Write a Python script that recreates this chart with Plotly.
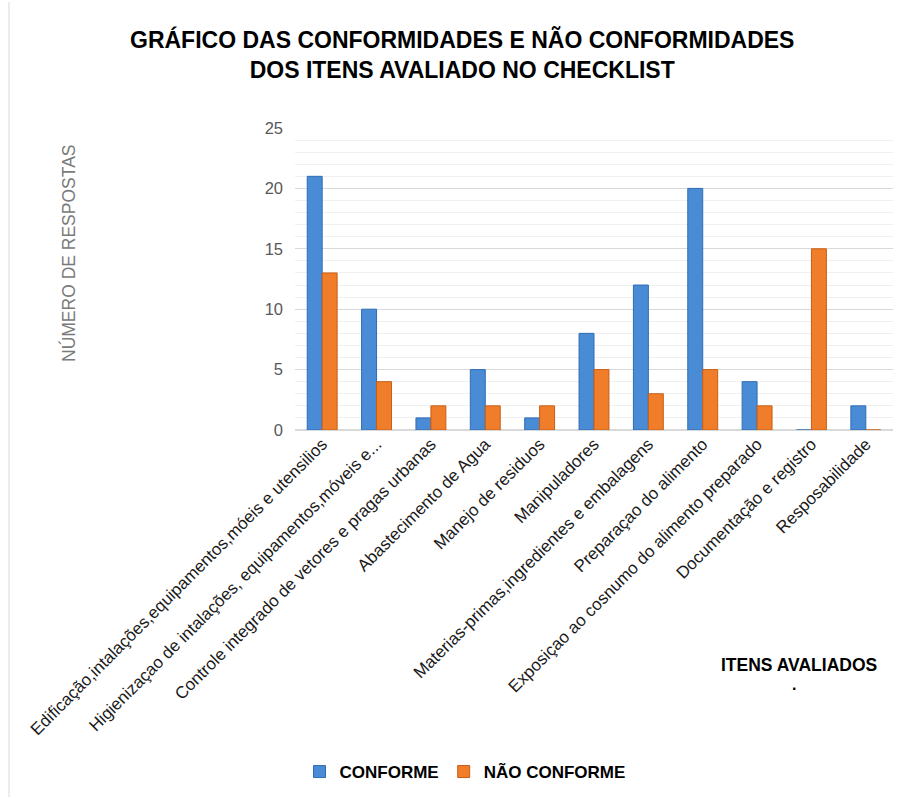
import plotly.graph_objects as go

categories = [
    "Edificação,intalações,equipamentos,móeis e utensilios",
    "Higienizaçao de intalações, equipamentos,móveis e...",
    "Controle integrado de vetores e pragas urbanas",
    "Abastecimento de Agua",
    "Manejo de residuos",
    "Manipuladores",
    "Materias-primas,ingredientes e embalagens",
    "Preparaçao do alimento",
    "Exposiçao ao cosnumo do alimento preparado",
    "Documentação e registro",
    "Resposabilidade",
]
conforme = [21, 10, 1, 5, 1, 8, 12, 20, 4, 0, 2]
nao_conforme = [13, 4, 2, 2, 2, 5, 3, 5, 2, 15, 0]
y_ticks = [0, 5, 10, 15, 20, 25]

W, H = 903, 799
L, R, T, B = 295, 10, 128, 369
pw, ph = W - L - R, H - T - B


def px(x):
    return (x - L) / pw


def py(y):
    return (H - B - y) / ph


FONT = "Liberation Sans, Arial, sans-serif"

fig = go.Figure()
fig.add_trace(go.Bar(
    name="CONFORME", x=categories, y=conforme,
    marker=dict(color="#4A8BD6", line=dict(color="#2F6DB3", width=1)),
))
fig.add_trace(go.Bar(
    name="NÃO CONFORME", x=categories, y=nao_conforme,
    marker=dict(color="#F07D2A", line=dict(color="#C85F14", width=1)),
))

fig.update_layout(
    width=W, height=H,
    margin=dict(l=L, r=R, t=T, b=B),
    paper_bgcolor="white", plot_bgcolor="white",
    barmode="group", bargap=0.45, bargroupgap=0.0,
    font=dict(family=FONT),
    showlegend=True,
    legend=dict(
        orientation="h", x=px(465), y=py(772), xanchor="center", yanchor="middle",
        font=dict(size=17, color="#000000", family=FONT, weight="bold"),
        itemwidth=30, traceorder="normal",
    ),
    xaxis=dict(
        tickangle=-45, tickfont=dict(size=17, color="#1a1a1a"),
        showgrid=False, showline=False, ticks="", automargin=False,
    ),
    yaxis=dict(
        range=[0, 25], tickvals=y_ticks, tickfont=dict(size=16.5, color="#595959"),
        showgrid=True, gridcolor="#d9d9d9", gridwidth=1,
        minor=dict(dtick=1, showgrid=True, gridcolor="#f0f0f0", gridwidth=1),
        zeroline=True, zerolinecolor="#d9d9d9", showline=False, ticks="",
        ticklabelstandoff=11, automargin=False,
    ),
    annotations=[
        dict(text="<b>GRÁFICO DAS CONFORMIDADES E NÃO CONFORMIDADES<br>DOS ITENS AVALIADO NO CHECKLIST</b>",
             x=px(462), y=py(54), xref="paper", yref="paper", showarrow=False,
             xanchor="center", yanchor="middle",
             font=dict(size=23, color="#000000", family=FONT),
             align="center"),
        dict(text="NÚMERO DE RESPOSTAS", x=px(68), y=py(253), xref="paper", yref="paper",
             showarrow=False, textangle=-90, xanchor="center", yanchor="middle",
             font=dict(size=17.5, color="#7a7a7a")),
        dict(text="<b>ITENS AVALIADOS</b>", x=px(799), y=py(665), xref="paper", yref="paper",
             showarrow=False, xanchor="center", yanchor="middle",
             font=dict(size=17.5, color="#000000")),
        dict(text="<b>.</b>", x=px(794), y=py(684), xref="paper", yref="paper",
             showarrow=False, xanchor="center", yanchor="middle",
             font=dict(size=16, color="#000000")),
    ],
    shapes=[
        dict(type="line", xref="paper", yref="paper", x0=px(9), x1=px(9), y0=py(2), y1=py(797),
             line=dict(color="#d9d9d9", width=1)),
    ],
)

fig.write_html("out.html")
